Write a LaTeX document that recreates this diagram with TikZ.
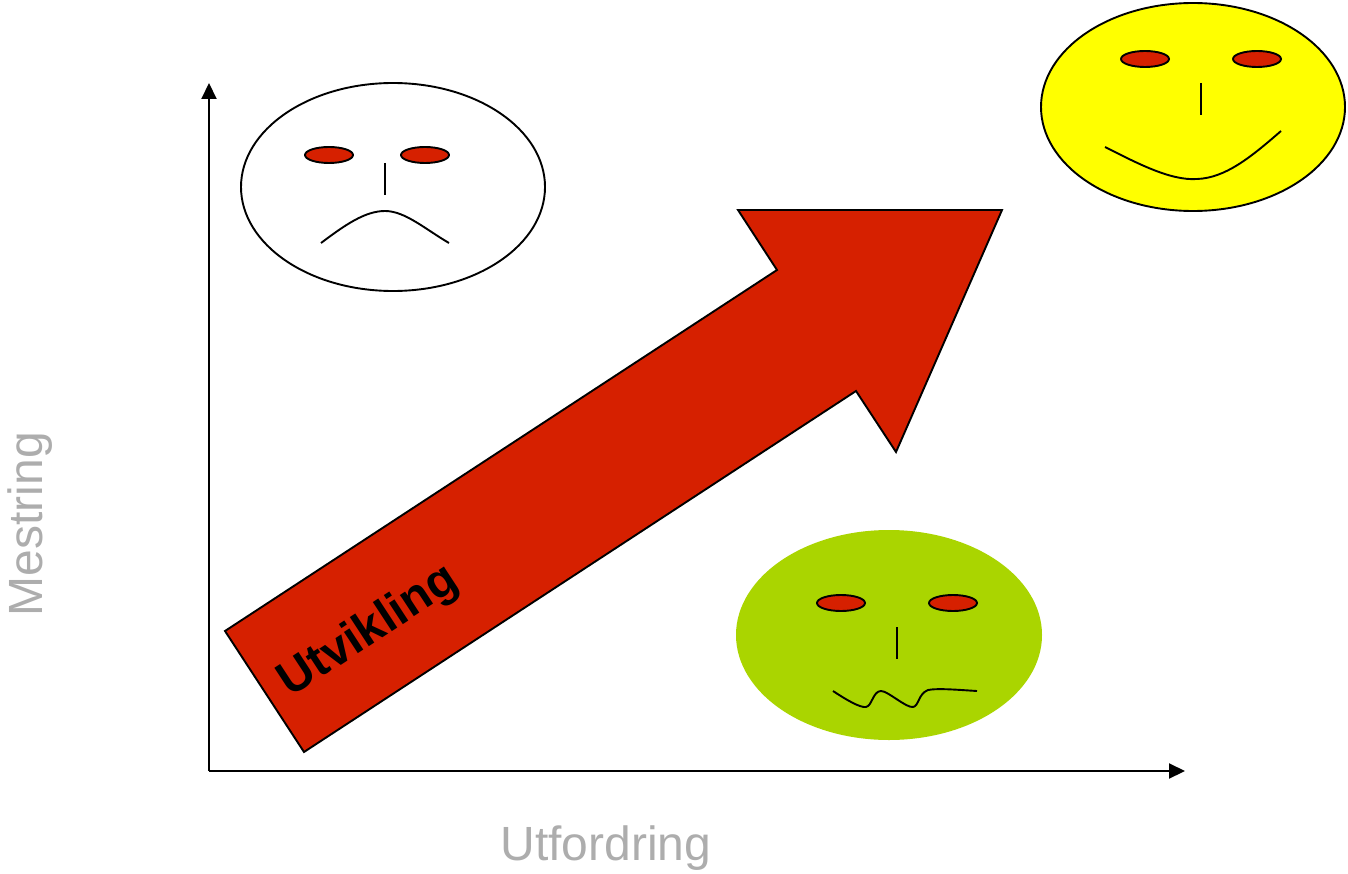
\documentclass[tikz,border=0pt]{standalone}
\usepackage{fontspec}
\usetikzlibrary{arrows.meta,shapes.geometric}
\setmainfont{Liberation Sans}
\begin{document}
\begin{tikzpicture}[x=1pt,y=-1pt,
  facebox/.style={draw=black,line width=1.9pt},
  eye/.style={draw=black,line width=1.9pt,fill=eyered,ellipse,minimum width=48pt,minimum height=16pt,inner sep=0pt},
  stroke/.style={draw=black,line width=1.9pt},
  axisline/.style={draw=black,line width=2pt,-{Triangle[length=16pt,width=15pt]}},
  axislabel/.style={text=labelgray,font=\fontsize{48}{48}\selectfont,inner sep=0pt}]
\definecolor{eyered}{HTML}{D62000}
\definecolor{labelgray}{HTML}{ADADAD}
\definecolor{facegreen}{HTML}{AAD500}
\definecolor{faceyellow}{RGB}{255,255,0}
\useasboundingbox (0,0) rectangle (1348,874);
\coordinate (o) at (209,771);
\coordinate (ytip) at (209,83);
\coordinate (xtip) at (1185,771);
\draw[axisline] (o) -- (ytip);
\draw[axisline] (o) -- (xtip);
\node[axislabel,rotate=90] (mestring) at (30,524) {Mestring};
\node[axislabel] (utfordring) at (606,848) {Utfordring};
% arrow
\draw[draw=black,line width=1.9pt,fill=eyered] (225,631) -- (777,270) -- (738,210) -- (1002,210) -- (896,452) -- (856,391) -- (304,752) -- cycle;
\node[rotate=33.2,font=\bfseries\fontsize{48}{48}\selectfont,text=black,inner sep=0pt] (utv) at (369,632) {Utvikling};
% sad face
\node[facebox,ellipse,minimum width=304pt,minimum height=208pt,inner sep=0pt,fill=white] (sad) at (393,187) {};
\node[eye] (sadl) at (329,155) {};
\node[eye] (sadr) at (425,155) {};
\draw[stroke] (385,163) -- (385,195);
\draw[stroke] (321,243) .. controls (345,225) and (365,211) .. (385,211) .. controls (405,211) and (425,229) .. (449,243);
% happy face
\node[facebox,ellipse,minimum width=304pt,minimum height=208pt,inner sep=0pt,fill=faceyellow] (happy) at (1193,107) {};
\node[eye] (hapl) at (1145,59) {};
\node[eye] (hapr) at (1257,59) {};
\draw[stroke] (1201,83) -- (1201,115);
\draw[stroke] (1105,147) .. controls (1135,162) and (1170,181) .. (1197,179) .. controls (1225,178) and (1250,158) .. (1281,131);
% green face
\node[ellipse,fill=facegreen,minimum width=306pt,minimum height=210pt,inner sep=0pt] (meh) at (889,635) {};
\node[eye] (mehl) at (841,603) {};
\node[eye] (mehr) at (953,603) {};
\draw[stroke] (897,627) -- (897,659);
\draw[stroke] (833,691) .. controls (845,699) and (860,708) .. (866,707) .. controls (872,706) and (873,691) .. (881,691) .. controls (888,691) and (906,708) .. (913,707) .. controls (919,706) and (918,694) .. (928,690) .. controls (938,688) and (960,690) .. (977,691);
\end{tikzpicture}
\end{document}
